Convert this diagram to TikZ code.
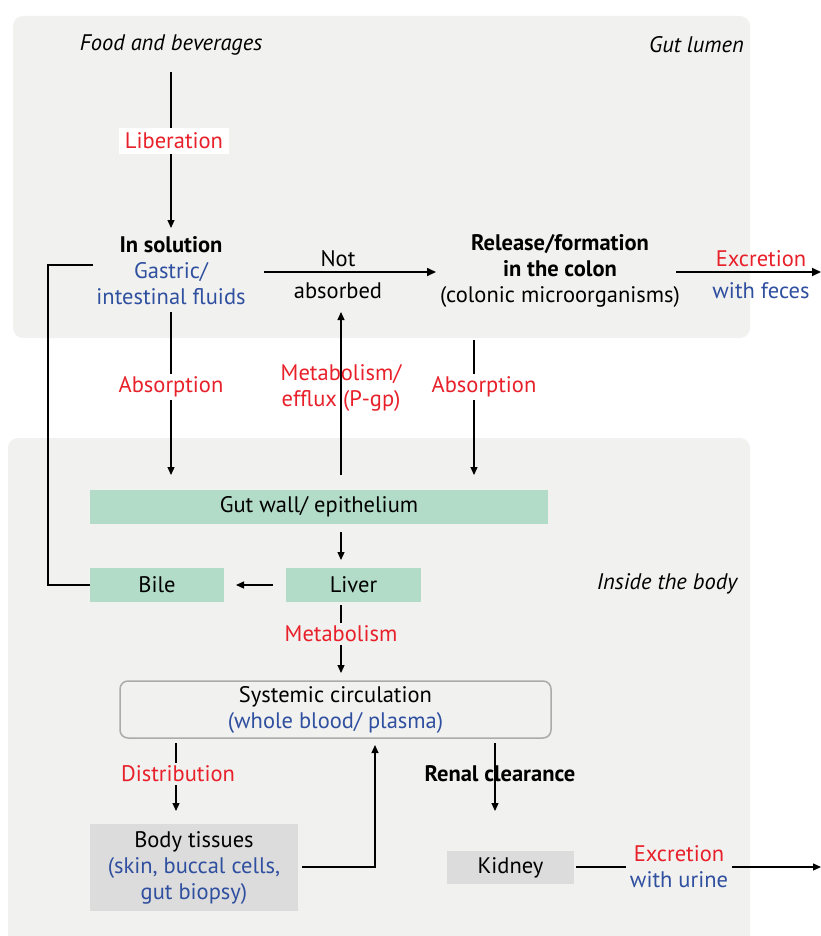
\documentclass[tikz,border=0pt]{standalone}
\usepackage{fontspec}
\setmainfont{PT Sans}
\usetikzlibrary{arrows.meta}
\definecolor{bgray}{HTML}{F1F1F0}
\definecolor{egreen}{HTML}{B3DCC8}
\definecolor{boxgray}{HTML}{DCDCDC}
\definecolor{tred}{HTML}{E8202A}
\definecolor{tblue}{HTML}{2F4F9F}
\tikzset{
  txt/.style={font=\fontsize{22.5}{26}\selectfont, inner sep=0pt, align=center},
  ital/.style={txt, font=\fontsize{22.5}{26}\selectfont\itshape},
  redt/.style={txt, text=tred},
  conn/.style={line width=1.2pt, -{Triangle[width=7pt,length=8pt]}},
  plain/.style={line width=1.2pt},
  greenbox/.style={txt, fill=egreen, minimum height=34pt},
  graybox/.style={txt, fill=boxgray},
  region/.style={fill=bgray, rounded corners=10pt},
}
\begin{document}
\begin{tikzpicture}[x=1pt,y=-1pt]
\useasboundingbox (0,0) rectangle (821,936);
% backgrounds
\fill[region] (13,16) rectangle (750,338);
\fill[region] (8,438) rectangle (750,950);

% top texts
\node[ital] (food) at (171,45) {Food and beverages};
\node[ital, anchor=east] (lumen) at (744,45) {Gut lumen};

% liberation
\coordinate (libtop) at (171,72);
\coordinate (libbot) at (171,228);
\draw[conn] (libtop) -- (libbot);
\node[redt, fill=white, inner xsep=6pt, minimum height=26pt] (lib) at (174,141) {Liberation};

% in solution
\node[txt] (sol) at (171,271) {\textbf{In solution}\\\textcolor{tblue}{Gastric/}\\\textcolor{tblue}{intestinal fluids}};

% not absorbed
\coordinate (nastart) at (264,272);
\coordinate (naend) at (436,272);
\draw[line width=1.6pt, -{Triangle[width=8pt,length=9pt]}] (nastart) -- (naend);
\node[txt] (not) at (338,259) {Not};
\node[txt] (absd) at (338,291) {absorbed};

% release
\node[txt] (rel) at (560,271) {\textbf{Release/formation}\\\textbf{in the colon}\\(colonic microorganisms)};

% excretion feces
\coordinate (fstart) at (676,272);
\coordinate (fend) at (821,272);
\draw[line width=1.6pt, -{Triangle[width=8pt,length=9pt]}] (fstart) -- (fend);
\node[redt] (exf) at (761,259) {Excretion};
\node[txt, text=tblue] (wf) at (761,291) {with feces};

% boxes
\node[greenbox, minimum width=458pt] (gut) at (319,507) {Gut wall/ epithelium};
\node[greenbox, minimum width=134pt] (bile) at (157,585) {Bile};
\node[greenbox, minimum width=135pt] (liver) at (353.5,585) {Liver};
\node[ital] (inside) at (667,584) {Inside the body};

% bile loop
\coordinate (looptop) at (93,265);
\coordinate (loopcorner) at (48,265);
\draw[plain] (looptop) -- (loopcorner) |- (bile.west);

% absorption left
\coordinate (a1s) at (171,312);
\coordinate (a1e) at (171,475);
\draw[conn] (a1s) -- (a1e);
\node[redt, fill=white, inner ysep=3pt] (abs1) at (171,387) {Absorption};

% metabolism / efflux
\coordinate (m1s) at (341,475);
\coordinate (m1e) at (341,312);
\draw[conn] (m1s) -- (m1e);
\node[redt] (met1) at (341,388) {Metabolism/\\efflux (P-gp)};

% absorption right
\coordinate (a2s) at (474,340);
\coordinate (a2e) at (474,475);
\draw[conn] (a2s) -- (a2e);
\node[redt, fill=white, inner ysep=3pt] (abs2) at (484,387) {Absorption};

% gut -> liver
\coordinate (glS) at (341,532);
\coordinate (glE) at (341,560);
\draw[conn] (glS) -- (glE);

% liver -> bile
\coordinate (lbS) at (273,585);
\coordinate (lbE) at (236,585);
\draw[conn] (lbS) -- (lbE);

% systemic circulation
\node[txt, draw=black!33, line width=1.5pt, fill=bgray, rounded corners=8pt, minimum width=431pt, minimum height=57pt] (sys) at (335.5,709.5) {Systemic circulation\\\textcolor{tblue}{(whole blood/ plasma)}};

% liver -> systemic
\coordinate (lsS) at (341,605);
\coordinate (lsE) at (341,673);
\draw[conn] (lsS) -- (lsE);
\node[redt, fill=bgray, inner ysep=3pt] (met2) at (341,634) {Metabolism};

% distribution
\coordinate (dS) at (176,743);
\coordinate (dE) at (176,811);
\draw[conn] (dS) -- (dE);
\node[redt, fill=bgray, inner ysep=3pt] (dist) at (178,774) {Distribution};

% body tissues
\node[graybox, minimum width=208pt, minimum height=87pt] (body) at (194,867.5) {Body tissues\\\textcolor{tblue}{(skin, buccal cells,}\\\textcolor{tblue}{gut biopsy)}};
\coordinate (btS) at (302,867);
\coordinate (btE) at (375,745);
\draw[conn] (btS) -| (btE);

% renal
\coordinate (rS) at (495,743);
\coordinate (rE) at (495,811);
\draw[conn] (rS) -- (rE);
\node[txt, font=\fontsize{22.5}{26}\selectfont\bfseries] (renal) at (500,774) {Renal clearance};

% kidney
\node[graybox, minimum width=127pt, minimum height=33pt] (kid) at (510.5,867.5) {Kidney};
\coordinate (kS) at (576,867);
\coordinate (kE) at (821,867);
\draw[conn] (kS) -- (kE);
\node[txt, fill=bgray, inner xsep=4pt] (exu) at (679,867) {\textcolor{tred}{Excretion}\\\textcolor{tblue}{with urine}};
\end{tikzpicture}
\end{document}
